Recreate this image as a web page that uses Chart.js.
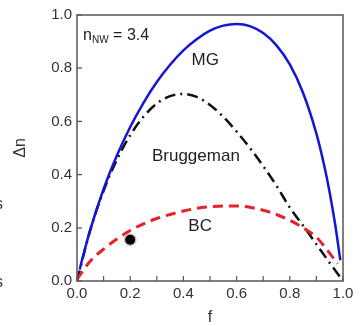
<!DOCTYPE html>
<html>
<head>
<meta charset="utf-8">
<script src="https://cdn.jsdelivr.net/npm/chart.js@4"></script>
<style>
  html, body { margin: 0; padding: 0; background: #fff; }
  #wrap { position: relative; width: 360px; height: 326px; overflow: hidden; }
  .stray { position: absolute; left: -5px; font: 16px "Liberation Sans", Arial, sans-serif; color: #333; }
</style>
</head>
<body>
<div id="wrap">
  <canvas id="c" width="360" height="326"></canvas>
  <span class="stray" style="top:195px">s</span>
  <span class="stray" style="top:233px">)</span>
  <span class="stray" style="top:273px">s</span>
</div>
<script>
/* Δn vs filling fraction f — MG / Bruggeman / BC models */

const mgF = [0.01, 0.02, 0.05, 0.1, 0.15, 0.2, 0.25, 0.3, 0.35, 0.4, 0.45, 0.5,
  0.55, 0.6, 0.65, 0.7, 0.75, 0.8, 0.85, 0.9, 0.93, 0.95, 0.97, 0.99];
const mgDn = [0.043, 0.083, 0.193, 0.346, 0.472, 0.579, 0.670, 0.748, 0.813, 0.867, 0.909, 0.941,
  0.960, 0.966, 0.958, 0.932, 0.886, 0.814, 0.707, 0.554, 0.431, 0.332, 0.216, 0.078];

const brF = [0, 0.05, 0.1, 0.15, 0.2, 0.25, 0.3, 0.35, 0.4, 0.45, 0.5, 0.55,
  0.6, 0.65, 0.7, 0.75, 0.8, 0.85, 0.9, 0.95, 1.0];
const brDn = [0, 0.192, 0.339, 0.456, 0.548, 0.618, 0.667, 0.695, 0.703, 0.692, 0.662, 0.617,
  0.562, 0.500, 0.432, 0.358, 0.276, 0.208, 0.138, 0.068, 0];

const bcF = [0, 0.02, 0.05, 0.1, 0.15, 0.2, 0.25, 0.3, 0.35, 0.4, 0.45, 0.5,
  0.55, 0.6, 0.65, 0.7, 0.75, 0.8, 0.85, 0.9, 0.94, 0.98];
const bcDn = [0.005, 0.035, 0.075, 0.12, 0.158, 0.19, 0.215, 0.235, 0.25, 0.263, 0.273, 0.279,
  0.282, 0.282, 0.277, 0.266, 0.25, 0.228, 0.2, 0.165, 0.117, 0.065];

const expF = [0.2];
const expDn = [0.155];

// curve labels: [text, f, Δn]
const labels = [
  ["MG", 0.482, 0.83],
  ["Bruggeman", 0.447, 0.47],
  ["BC", 0.463, 0.207],
];

const FONT = '"Liberation Sans", Arial, sans-serif';
const TEXT = "#333";

const pts = (xs, ys) => xs.map((x, i) => ({ x, y: ys[i] }));

const framePlugin = {
  id: "frame",
  afterDraw(chart) {
    const { ctx, chartArea: a, scales: { x, y } } = chart;
    ctx.save();
    ctx.strokeStyle = "#555";
    ctx.lineWidth = 1.5;
    ctx.strokeRect(a.left, a.top, a.right - a.left, a.bottom - a.top);
    ctx.lineWidth = 1.2;
    ctx.beginPath();
    x.ticks.forEach((t) => {
      const px = x.getPixelForValue(t.value);
      ctx.moveTo(px, a.bottom);
      ctx.lineTo(px, a.bottom - 5);
    });
    y.ticks.forEach((t) => {
      const py = y.getPixelForValue(t.value);
      ctx.moveTo(a.left, py);
      ctx.lineTo(a.left + 5, py);
    });
    ctx.stroke();

    // curve names
    ctx.fillStyle = "#222";
    ctx.font = "17px " + FONT;
    ctx.textAlign = "center";
    ctx.textBaseline = "middle";
    labels.forEach(([txt, f, dn]) => {
      ctx.fillText(txt, x.getPixelForValue(f), y.getPixelForValue(dn));
    });

    // n_NW = 3.4
    let lx = x.getPixelForValue(0.023);
    const ly = y.getPixelForValue(0.905);
    ctx.textAlign = "left";
    ctx.textBaseline = "alphabetic";
    ctx.font = "16px " + FONT;
    ctx.fillText("n", lx, ly);
    lx += ctx.measureText("n").width;
    ctx.font = "10px " + FONT;
    ctx.fillText("NW", lx, ly + 3);
    lx += ctx.measureText("NW").width;
    ctx.font = "16px " + FONT;
    ctx.fillText(" = 3.4", lx, ly);
    ctx.restore();
  },
};

new Chart(document.getElementById("c").getContext("2d"), {
  type: "scatter",
  data: {
    datasets: [
      {
        label: "MG",
        data: pts(mgF, mgDn),
        showLine: true,
        borderColor: "#1515d6",
        borderWidth: 2.5,
        pointRadius: 0,
        cubicInterpolationMode: "monotone",
        order: 1,
      },
      {
        label: "BC",
        data: pts(bcF, bcDn),
        showLine: true,
        borderColor: "#e62129",
        borderWidth: 3,
        borderDash: [10, 6],
        pointRadius: 0,
        cubicInterpolationMode: "monotone",
        order: 2,
      },
      {
        label: "Bruggeman",
        data: pts(brF, brDn),
        showLine: true,
        borderColor: "#111",
        borderWidth: 2.5,
        borderDash: [11, 5, 2, 5],
        pointRadius: 0,
        cubicInterpolationMode: "monotone",
        order: 3,
      },
      {
        label: "exp",
        data: pts(expF, expDn),
        pointStyle: "circle",
        pointRadius: 5,
        backgroundColor: "#000",
        borderColor: "rgba(0,0,0,0.22)",
        borderWidth: 3,
        order: 0,
      },
    ],
  },
  options: {
    animation: false,
    responsive: false,
    layout: { padding: { top: 15, right: 17, left: 0, bottom: 0 } },
    plugins: { legend: { display: false }, tooltip: { enabled: false } },
    scales: {
      x: {
        type: "linear",
        min: 0,
        max: 1,
        afterFit(s) { s.height = 45; },
        grid: { display: false, drawTicks: false },
        border: { display: false },
        ticks: {
          stepSize: 0.1,
          padding: 4,
          color: TEXT,
          font: { family: FONT, size: 15 },
          maxRotation: 0,
          autoSkip: false,
          callback: (v) => (Math.round(v * 10) % 2 === 0 ? v.toFixed(1) : ""),
        },
        title: {
          display: true,
          text: "f",
          color: TEXT,
          font: { family: FONT, size: 16, lineHeight: 1 },
          padding: { top: 0, bottom: 0 },
        },
      },
      y: {
        type: "linear",
        min: 0,
        max: 1,
        afterFit(s) { s.width = 77; },
        grid: { display: false, drawTicks: false },
        border: { display: false },
        ticks: {
          stepSize: 0.2,
          padding: 5,
          color: TEXT,
          font: { family: FONT, size: 15 },
          callback: (v) => v.toFixed(1),
        },
        title: {
          display: true,
          text: "Δn",
          color: TEXT,
          font: { family: FONT, size: 16 },
          padding: { top: 11, bottom: 0 },
        },
      },
    },
  },
  plugins: [framePlugin],
});
</script>
</body>
</html>
